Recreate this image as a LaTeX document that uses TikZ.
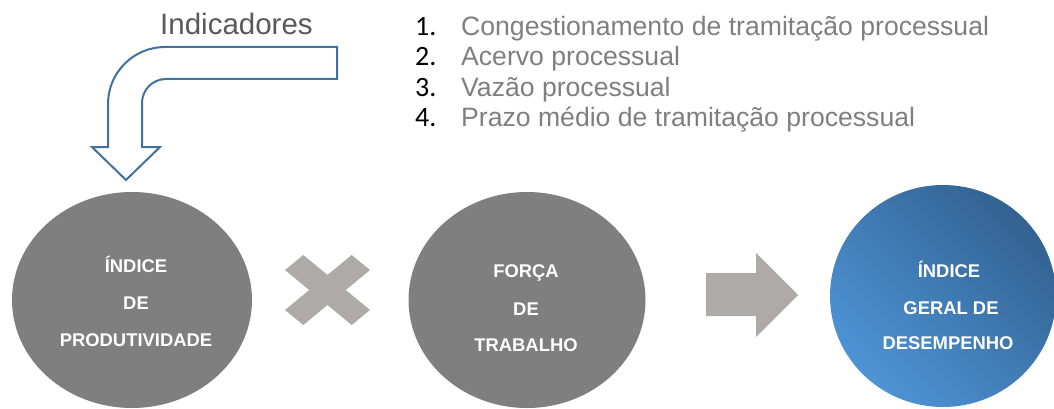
\documentclass[tikz,border=0pt]{standalone}
\usepackage{fontspec}
\setmainfont{Liberation Sans}
\newfontfamily\numfont{Carlito}
\usetikzlibrary{shapes.geometric}
\definecolor{ellgrey}{RGB}{127,127,127}
\definecolor{opgrey}{RGB}{173,170,169}
\definecolor{arrowblue}{RGB}{65,113,156}
\definecolor{darkblue}{RGB}{51,98,145}
\definecolor{lightblue}{RGB}{77,148,214}
\definecolor{titlegrey}{RGB}{89,89,89}
\definecolor{listgrey}{RGB}{127,127,127}
\begin{document}
\begin{tikzpicture}[x=1pt,y=-1pt,
  bubble/.style={ellipse, inner sep=0pt, draw=none},
  greybubble/.style={bubble, fill=ellgrey},
  bluebubble/.style={bubble, top color=darkblue, bottom color=lightblue, shading angle=-45},
  bubbletext/.style={anchor=base, inner sep=0pt, text=white, font=\fontsize{18.4}{18.4}\selectfont\bfseries},
  listnum/.style={anchor=base west, inner sep=0pt, font=\numfont\fontsize{28}{28}\selectfont, text=black},
  listitem/.style={anchor=base west, inner sep=0pt, font=\fontsize{26.6}{26.6}\selectfont, text=listgrey},
  titletext/.style={anchor=base west, inner sep=0pt, font=\fontsize{29.5}{29.5}\selectfont, text=titlegrey},
  opshape/.style={fill=opgrey, draw=none},
  bentarrow/.style={draw=arrowblue, fill=white, line width=2pt, line join=miter},
]
\useasboundingbox (0,0) rectangle (1054,409);

% title and list
\node[titletext] (title) at (160,35) {Indicadores};
\node[listnum] (n1) at (415,36) {1.};
\node[listnum] (n2) at (415,66) {2.};
\node[listnum] (n3) at (415,97) {3.};
\node[listnum] (n4) at (415,127) {4.};
\node[listitem] (i1) at (461,36) {Congestionamento de tramitação processual};
\node[listitem] (i2) at (461,66) {Acervo processual};
\node[listitem] (i3) at (461,97) {Vazão processual};
\node[listitem] (i4) at (461,127) {Prazo médio de tramitação processual};

% bent arrow
\draw[bentarrow] (337,47) -- (165,47) .. controls (133.5,47) and (108,72.5) .. (108,104)
  -- (108,147) -- (92,147) -- (126,180) -- (160,147) -- (142,147) -- (142,103)
  .. controls (142,89.75) and (152.75,79) .. (166,79) -- (337,79) -- cycle;

% bubbles
\node[greybubble, minimum width=240pt, minimum height=216pt] (e1) at (132,300) {};
\node[greybubble, minimum width=237pt, minimum height=216pt] (e2) at (527,300) {};
\node[bluebubble, minimum width=226pt, minimum height=222pt] (e3) at (943,296) {};

\node[bubbletext] (t11) at (136,272) {ÍNDICE};
\node[bubbletext] (t12) at (136,309) {DE};
\node[bubbletext] (t13) at (136,346) {PRODUTIVIDADE};

\node[bubbletext] (t21) at (526,277) {FORÇA};
\node[bubbletext] (t22) at (526,315) {DE};
\node[bubbletext] (t23) at (526,351) {TRABALHO};

\node[bubbletext] (t31) at (949,277) {ÍNDICE};
\node[bubbletext] (t32) at (951,314) {GERAL DE};
\node[bubbletext] (t33) at (948,349) {DESEMPENHO};

% multiply sign
\def\cx{327.5}\def\cy{290}\def\hx{42.5}\def\hy{35}\def\aa{0.43}
\fill[opshape]
  ({\cx-\hx},{\cy+(-1+\aa)*\hy}) -- ({\cx+(-1+\aa)*\hx},{\cy-\hy}) -- (\cx,{\cy-\aa*\hy})
  -- ({\cx+(1-\aa)*\hx},{\cy-\hy}) -- ({\cx+\hx},{\cy+(-1+\aa)*\hy}) -- ({\cx+\aa*\hx},\cy)
  -- ({\cx+\hx},{\cy+(1-\aa)*\hy}) -- ({\cx+(1-\aa)*\hx},{\cy+\hy}) -- (\cx,{\cy+\aa*\hy})
  -- ({\cx+(-1+\aa)*\hx},{\cy+\hy}) -- ({\cx-\hx},{\cy+(1-\aa)*\hy}) -- ({\cx-\aa*\hx},\cy) -- cycle;

% right arrow
\fill[opshape] (706,273) -- (756,273) -- (756,253) -- (798,295) -- (756,337) -- (756,316) -- (706,316) -- cycle;
\end{tikzpicture}
\end{document}
